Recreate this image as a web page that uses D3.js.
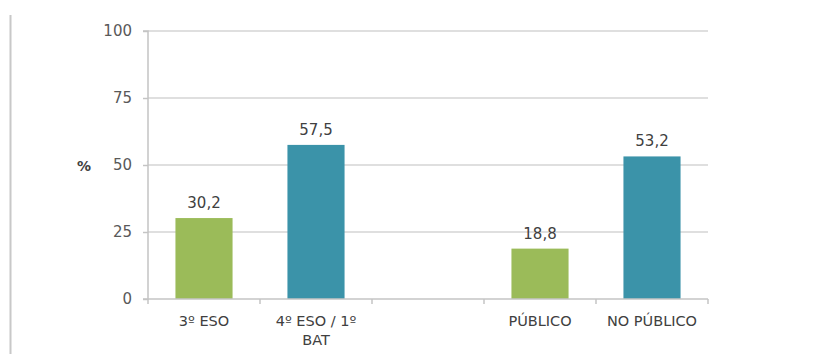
<!DOCTYPE html>
<html>
<head>
<meta charset="utf-8">
<script src="https://cdn.jsdelivr.net/npm/d3@7/dist/d3.min.js"></script>
<style>
  html, body { margin: 0; padding: 0; background: #fff; }
  svg { display: block; }
  text { font-family: "DejaVu Sans", sans-serif; }
</style>
</head>
<body>
<svg id="chart" width="830" height="354"></svg>
<script>
// Categories (empty slot separates the two groups)
const categories = ["3º ESO", "4º ESO / 1º BAT", "", "PÚBLICO", "NO PÚBLICO"];
const values = [30.2, 57.5, null, 18.8, 53.2];
const barColors = ["#9bbb59", "#3b93a9", null, "#9bbb59", "#3b93a9"];
const yTicks = [0, 25, 50, 75, 100];
const yLabel = "%";

(function () {
  const svg = d3.select("#chart");
  const plotLeft = 148, plotRight = 708, plotTop = 31, plotBottom = 299;
  const font = "DejaVu Sans, sans-serif";

  // Page margin rule on the left
  svg.append("line")
    .attr("x1", 10.5).attr("x2", 10.5).attr("y1", 15).attr("y2", 354)
    .attr("stroke", "#c8c8c8").attr("stroke-width", 2);

  const y = d3.scaleLinear().domain([0, 100]).range([plotBottom, plotTop]);
  const xCat = d3.scaleBand().domain(d3.range(categories.length)).range([plotLeft, plotRight]).padding(0);
  const xBar = d3.scaleBand().domain(d3.range(categories.length)).range([plotLeft, plotRight])
    .paddingInner(0.49).paddingOuter(0.245);

  // Horizontal gridlines
  svg.append("g").selectAll("line")
    .data(yTicks.filter(d => d > 0))
    .join("line")
    .attr("x1", plotLeft).attr("x2", plotRight)
    .attr("y1", d => y(d)).attr("y2", d => y(d))
    .attr("stroke", "#d4d4d4").attr("stroke-width", 1.5);

  // Y axis
  const yAxis = svg.append("g")
    .attr("transform", `translate(${plotLeft},0)`)
    .call(d3.axisLeft(y).tickValues(yTicks).tickSize(5).tickPadding(11).tickFormat(d3.format("d")));
  yAxis.select(".domain").attr("stroke", "#c4c4c4").attr("stroke-width", 1.5)
    .attr("d", `M-5,${plotTop}H0V${plotBottom}H-5`);
  yAxis.selectAll(".tick line").attr("stroke", "#c4c4c4").attr("stroke-width", 1.5);
  yAxis.selectAll(".tick text")
    .attr("fill", "#595959").attr("font-size", 15).attr("font-family", font);

  // Y axis title
  svg.append("text")
    .attr("x", 84).attr("y", y(50) + 6)
    .attr("text-anchor", "middle")
    .attr("fill", "#404040").attr("font-size", 14).attr("font-weight", "bold")
    .text(yLabel);

  // Bars
  const data = categories.map((c, i) => ({ i, c, v: values[i], color: barColors[i] }))
    .filter(d => d.v != null);

  svg.append("g").selectAll("rect")
    .data(data)
    .join("rect")
    .attr("x", d => xBar(d.i))
    .attr("width", xBar.bandwidth())
    .attr("y", d => y(d.v))
    .attr("height", d => y(0) - y(d.v))
    .attr("fill", d => d.color);

  // Value labels
  svg.append("g").selectAll("text")
    .data(data)
    .join("text")
    .attr("x", d => xBar(d.i) + xBar.bandwidth() / 2)
    .attr("y", d => y(d.v) - 10)
    .attr("text-anchor", "middle")
    .attr("fill", "#404040").attr("font-size", 15)
    .text(d => d3.format(".1f")(d.v).replace(".", ","));

  // X axis baseline and category separators
  const xg = svg.append("g");
  xg.append("line")
    .attr("x1", plotLeft).attr("x2", plotRight).attr("y1", plotBottom).attr("y2", plotBottom)
    .attr("stroke", "#c4c4c4").attr("stroke-width", 1.5);
  const bounds = d3.range(categories.length).map(i => xCat(i)).concat([plotRight]);
  xg.selectAll("line.sep")
    .data(bounds)
    .join("line")
    .attr("class", "sep")
    .attr("x1", d => d).attr("x2", d => d)
    .attr("y1", plotBottom).attr("y2", plotBottom + 5)
    .attr("stroke", "#c4c4c4").attr("stroke-width", 1.5);

  // Category labels, wrapped to the category width
  const maxW = xCat.bandwidth() * 0.9;
  categories.forEach((c, i) => {
    if (!c) return;
    const cx = xCat(i) + xCat.bandwidth() / 2;
    const t = xg.append("text")
      .attr("x", cx)
      .attr("y", plotBottom + 27)
      .attr("text-anchor", "middle")
      .attr("fill", "#404040").attr("font-size", 14.5);
    const words = c.split(" ");
    let line = [];
    let ts = t.append("tspan").attr("x", cx).attr("dy", 0);
    words.forEach(w => {
      line.push(w);
      ts.text(line.join(" "));
      if (ts.node().getComputedTextLength() > maxW && line.length > 1) {
        line.pop();
        ts.text(line.join(" "));
        line = [w];
        ts = t.append("tspan").attr("x", cx).attr("dy", 19).text(w);
      }
    });
  });
})();
</script>
</body>
</html>
